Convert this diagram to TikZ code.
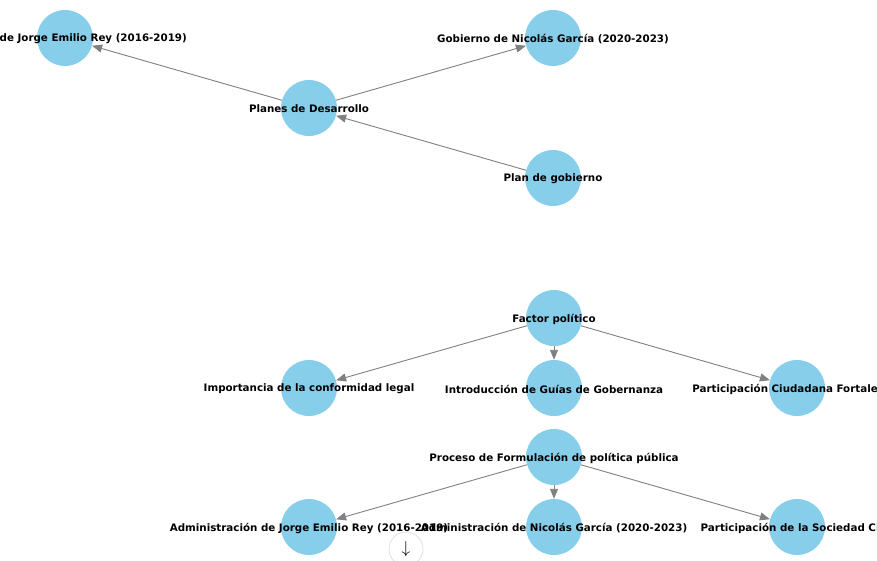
\documentclass[tikz,border=0pt]{standalone}
\usepackage{fontspec}
\setmainfont{DejaVu Sans}
\usetikzlibrary{arrows.meta}
\definecolor{skyblue}{HTML}{87CEEB}
\definecolor{edgegray}{HTML}{808080}
\tikzset{
  vertex/.style={circle,fill=skyblue,minimum size=56pt,inner sep=0pt},
  lbl/.style={font=\fontsize{10.3}{12}\selectfont\bfseries,text=black,inner sep=0pt,yshift=-1pt},
  edge/.style={draw=edgegray,line width=0.9pt,-{Triangle[length=10pt,width=8pt]}}
}
\begin{document}
\begin{tikzpicture}[x=1pt,y=-1pt]
\useasboundingbox (0,0) rectangle (877,560);
\clip (0,0) rectangle (877,560);

% first graph
\node[vertex] (jorge) at (65,38) {};
\node[vertex] (nicolas) at (553,38) {};
\node[vertex] (planes) at (309,108) {};
\node[vertex] (plangob) at (553,178) {};

\draw[edge] (planes) -- (jorge);
\draw[edge] (planes) -- (nicolas);
\draw[edge] (plangob) -- (planes);

\node[lbl] (tjorge) at (jorge) {Gobierno de Jorge Emilio Rey (2016-2019)};
\node[lbl] (tnicolas) at (nicolas) {Gobierno de Nicolás García (2020-2023)};
\node[lbl] (tplanes) at (planes) {Planes de Desarrollo};
\node[lbl] (tplangob) at (plangob) {Plan de gobierno};

% second graph
\node[vertex] (factor) at (554,318) {};
\node[vertex] (importancia) at (309,388) {};
\node[vertex] (guias) at (554,388) {};
\node[vertex] (ciudadana) at (797,388) {};

\foreach \t in {importancia,guias,ciudadana}
  \draw[edge] (factor) -- (\t);

\node[lbl] (tfactor) at (factor) {Factor político};
\node[lbl] (timportancia) at (importancia) {Importancia de la conformidad legal};
\node[lbl] (tguias) at (guias) {Introducción de Guías de Gobernanza};
\node[lbl] (tciudadana) at (ciudadana) {Participación Ciudadana Fortalecida};

% third graph
\node[vertex] (proceso) at (554,457) {};
\node[vertex] (admjorge) at (309,527) {};
\node[vertex] (admnicolas) at (554,527) {};
\node[vertex] (sociedad) at (797,527) {};

\foreach \t in {admjorge,admnicolas,sociedad}
  \draw[edge] (proceso) -- (\t);

\node[lbl] (tproceso) at (proceso) {Proceso de Formulación de política pública};
\node[lbl] (tadmjorge) at (admjorge) {Administración de Jorge Emilio Rey (2016-2019)};
\node[lbl] (tadmnicolas) at (admnicolas) {Administración de Nicolás García (2020-2023)};
\node[lbl] (tsociedad) at (sociedad) {Participación de la Sociedad Civil};

% scroll button
\node[circle,draw=black!12,fill=white,line width=0.8pt,minimum size=34pt,inner sep=0pt] (scroll) at (406,549) {\fontsize{18}{18}\selectfont$\downarrow$};
\end{tikzpicture}
\end{document}
